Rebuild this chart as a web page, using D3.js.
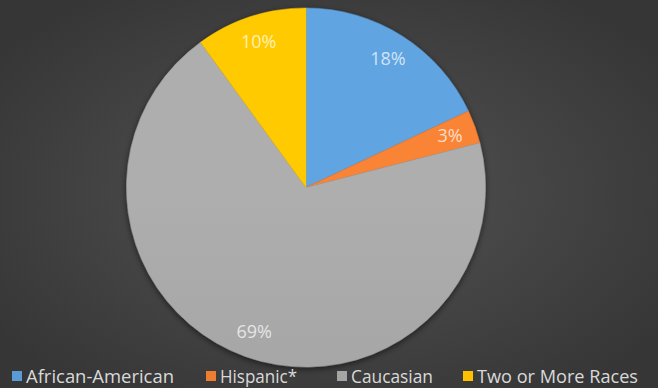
<!DOCTYPE html>
<html>
<head>
<meta charset="utf-8">
<script src="https://cdn.jsdelivr.net/npm/d3@7"></script>
<style>
  html, body { margin: 0; padding: 0; background: #404040; }
  svg { display: block; }
</style>
</head>
<body>
<svg id="chart" width="658" height="388"></svg>
<script>
// Student enrollment by race (percent of total)
const categories = ["African-American", "Hispanic*", "Caucasian", "Two or More Races"];
const values = [18, 3, 69, 10];
const colors = ["#5b9bd5", "#ed7d31", "#a5a5a5", "#ffc000"];

const W = 658, H = 388;
const cx = 306, cy = 187.5, R = 179.5;

const svg = d3.select("#chart");
const defs = svg.append("defs");

// dark radial backdrop
const bg = defs.append("radialGradient").attr("id", "bg")
  .attr("cx", "50%").attr("cy", "50%").attr("r", "62%");
bg.append("stop").attr("offset", "0%").attr("stop-color", "#545454");
bg.append("stop").attr("offset", "100%").attr("stop-color", "#363636");
svg.append("rect").attr("width", W).attr("height", H).attr("fill", "url(#bg)");

// soft shadow under the pie
const shadow = defs.append("filter").attr("id", "shadow")
  .attr("x", "-10%").attr("y", "-10%").attr("width", "120%").attr("height", "125%");
shadow.append("feDropShadow").attr("dx", 0).attr("dy", 2).attr("stdDeviation", 3)
  .attr("flood-color", "#000").attr("flood-opacity", 0.55);

// gentle top-to-bottom sheen on each slice
colors.forEach((c, i) => {
  const g = defs.append("linearGradient").attr("id", "sl" + i)
    .attr("gradientUnits", "userSpaceOnUse")
    .attr("x1", 0).attr("y1", cy - R).attr("x2", 0).attr("y2", cy + R);
  g.append("stop").attr("offset", "0%").attr("stop-color", d3.color(c).brighter(0.15));
  g.append("stop").attr("offset", "100%").attr("stop-color", d3.color(c).darker(0.12));
});

const data = categories.map((name, i) => ({ name, value: values[i], i }));
const pie = d3.pie().value(d => d.value).sort(null);
const arcs = pie(data);
const arc = d3.arc().innerRadius(0).outerRadius(R);
const labelArc = d3.arc().innerRadius(153).outerRadius(153);

const g = svg.append("g").attr("transform", `translate(${cx},${cy})`);
g.append("g").attr("filter", "url(#shadow)")
  .selectAll("path").data(arcs).join("path")
  .attr("d", arc)
  .attr("fill", d => `url(#sl${d.data.i})`)
  .attr("stroke", d => d3.color(colors[d.data.i]).darker(0.1))
  .attr("stroke-width", 0.5);

g.selectAll("text.lbl").data(arcs).join("text")
  .attr("class", "lbl")
  .attr("transform", d => `translate(${labelArc.centroid(d)})`)
  .attr("text-anchor", "middle")
  .attr("dy", "0.35em")
  .attr("font-family", "'Open Sans', 'Noto Sans', sans-serif")
  .attr("font-size", 18)
  .attr("fill", "#ffffff")
  .attr("fill-opacity", 0.72)
  .text(d => d.data.value + "%");

// legend along the bottom
const legendX = [12, 206, 337, 463];
const legendTextW = [148, 77, 82, 161];
const leg = svg.append("g").attr("font-family", "'Open Sans', 'Noto Sans', sans-serif")
  .attr("font-size", 18);
const items = leg.selectAll("g").data(data).join("g")
  .attr("transform", (d, i) => `translate(${legendX[i]},0)`);
items.append("rect").attr("x", 0).attr("y", 371).attr("width", 10).attr("height", 10)
  .attr("fill", d => colors[d.i]);
items.append("text").attr("x", 14).attr("y", 382.5)
  .attr("fill", "#d9d9d9")
  .attr("textLength", (d, i) => legendTextW[i])
  .attr("lengthAdjust", "spacingAndGlyphs")
  .text(d => d.name);
</script>
</body>
</html>
